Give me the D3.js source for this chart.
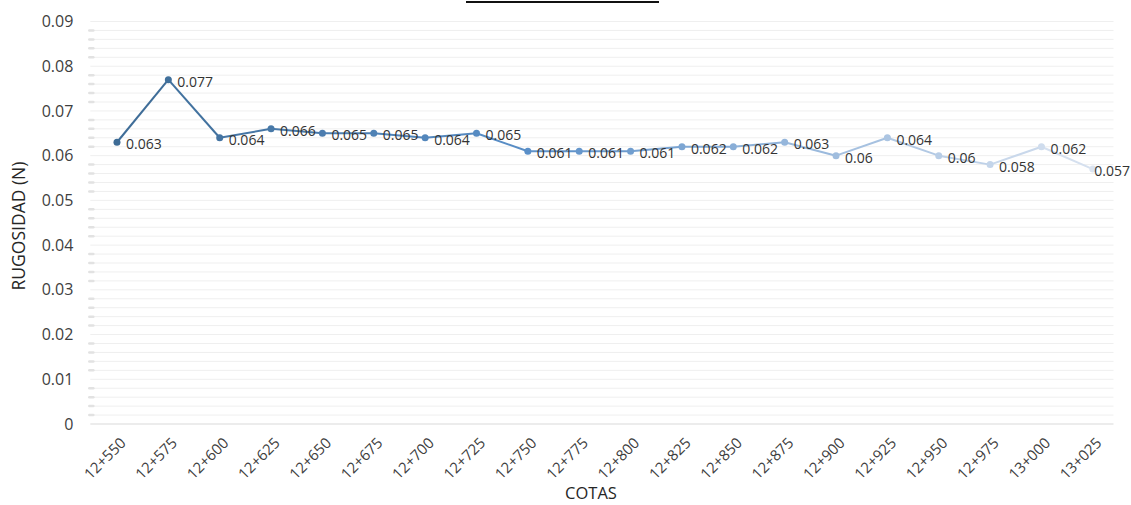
<!DOCTYPE html>
<html>
<head>
<meta charset="utf-8">
<script src="https://cdn.jsdelivr.net/npm/d3@7"></script>
<style>
  body { margin: 0; background: #fff; }
  svg { display: block; font-family: "Open Sans", "Noto Sans", sans-serif; }
</style>
</head>
<body>
<div id="chart"></div>
<script>
// --- Data ---
const cotas = ["12+550", "12+575", "12+600", "12+625", "12+650", "12+675", "12+700",
  "12+725", "12+750", "12+775", "12+800", "12+825", "12+850", "12+875", "12+900",
  "12+925", "12+950", "12+975", "13+000", "13+025"];
const rugosidad = [0.063, 0.077, 0.064, 0.066, 0.065, 0.065, 0.064, 0.065, 0.061, 0.061,
  0.061, 0.062, 0.062, 0.063, 0.06, 0.064, 0.06, 0.058, 0.062, 0.057];
const yTicks = [0, 0.01, 0.02, 0.03, 0.04, 0.05, 0.06, 0.07, 0.08, 0.09];

const width = 1131, height = 505;
const margin = { top: 21.5, right: 12.5, bottom: 81, left: 91.3 };

const svg = d3.select("#chart").append("svg")
    .attr("width", width)
    .attr("height", height);

const x = d3.scaleBand()
    .domain(cotas)
    .range([margin.left, width - margin.right]);

const y = d3.scaleLinear()
    .domain([0, 0.09])
    .range([height - margin.bottom, margin.top]);

// colour fades from dark steel blue through blue to very pale blue
const color = d3.scaleLinear()
    .domain([0, 8, cotas.length - 1])
    .range(["#3d6b95", "#5a8fc8", "#dbe4f1"])
    .interpolate(d3.interpolateRgb);

// --- title underline (title itself is cut off) ---
svg.append("line")
    .attr("x1", 466).attr("x2", 659)
    .attr("y1", 2).attr("y2", 2)
    .attr("stroke", "#111").attr("stroke-width", 2);

// --- gridlines (major + minor) ---
const minor = d3.range(0, 0.0901, 0.002);
svg.append("g")
    .selectAll("line")
    .data(minor)
    .enter().append("line")
    .attr("x1", margin.left - 1).attr("x2", width - margin.right - 5)
    .attr("y1", d => y(d)).attr("y2", d => y(d))
    .attr("stroke", d => Math.abs(d) < 1e-9 ? "#d9d9d9" : "#efefef")
    .attr("stroke-width", 1);

// small minor tick marks on the left
svg.append("g")
    .selectAll("line")
    .data(minor.filter((d, i) => i % 5 !== 0))
    .enter().append("line")
    .attr("x1", margin.left - 2).attr("x2", margin.left + 2)
    .attr("y1", d => y(d)).attr("y2", d => y(d))
    .attr("stroke", "#e2e2e2")
    .attr("stroke-width", 2.5)
    .attr("stroke-linecap", "round");

// --- y axis ---
const yAxis = svg.append("g")
    .attr("transform", `translate(${margin.left - 15},0)`)
    .call(d3.axisLeft(y).tickValues(yTicks).tickSize(0).tickFormat(d => d === 0 ? "0" : d3.format(".2f")(d)));
yAxis.select(".domain").remove();
yAxis.selectAll("text")
    .attr("font-size", 16)
    .attr("fill", "#404040")
    .attr("font-family", "'Open Sans', sans-serif");

// --- x axis ---
const xAxis = svg.append("g")
    .attr("transform", `translate(0,${height - margin.bottom})`)
    .call(d3.axisBottom(x).tickSize(0));
xAxis.select(".domain").remove();
xAxis.selectAll("text")
    .attr("font-size", 15)
    .attr("font-family", "'Open Sans', sans-serif")
    .attr("fill", "#404040")
    .attr("text-anchor", "end")
    .attr("dy", "0.35em")
    .attr("transform", "translate(4,14) rotate(-45)");

// axis titles
svg.append("text")
    .attr("x", 591).attr("y", 499)
    .attr("text-anchor", "middle")
    .attr("font-size", 16.5)
    .attr("fill", "#262626")
    .text("COTAS");

svg.append("text")
    .attr("transform", "translate(25,226) rotate(-90)")
    .attr("text-anchor", "middle")
    .attr("font-size", 17.5)
    .attr("fill", "#262626")
    .text("RUGOSIDAD (N)");

// --- line segments, each coloured by position ---
const cx = d => x(d) + x.bandwidth() / 2;
const pts = cotas.map((c, i) => ({ c, v: rugosidad[i], i }));

svg.append("g")
    .selectAll("line")
    .data(pts.slice(1))
    .enter().append("line")
    .attr("x1", d => cx(cotas[d.i - 1]))
    .attr("y1", d => y(rugosidad[d.i - 1]))
    .attr("x2", d => cx(d.c))
    .attr("y2", d => y(d.v))
    .attr("stroke", d => color(d.i - 0.5))
    .attr("stroke-width", 2);

svg.append("g")
    .selectAll("circle")
    .data(pts)
    .enter().append("circle")
    .attr("cx", d => cx(d.c))
    .attr("cy", d => y(d.v))
    .attr("r", 3.5)
    .attr("fill", d => color(d.i));

// data labels (kept inside the picture on the right edge)
svg.append("g")
    .selectAll("text")
    .data(pts)
    .enter().append("text")
    .attr("x", d => cx(d.c) + 9)
    .attr("y", d => y(d.v) + 7)
    .attr("font-size", 14)
    .attr("fill", "#333")
    .text(d => String(d.v))
    .each(function () {
        const t = d3.select(this);
        const len = this.getComputedTextLength();
        const xx = +t.attr("x");
        if (xx + len > width - 1) t.attr("x", width - 1 - len);
    });
</script>
</body>
</html>
